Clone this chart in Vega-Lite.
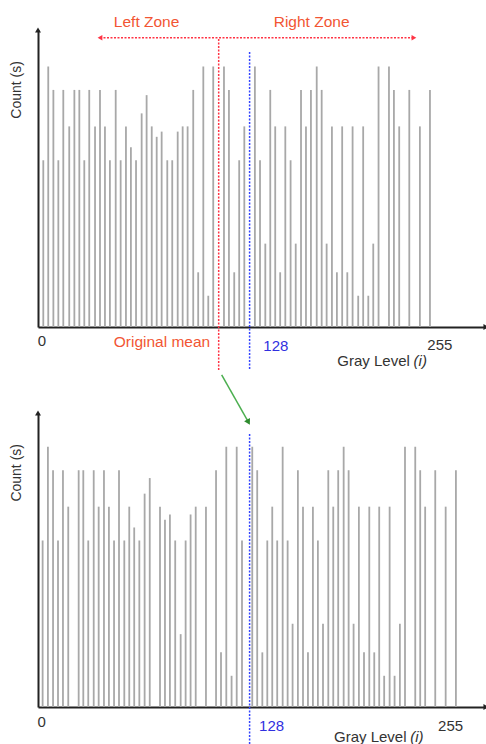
{
  "$schema": "https://vega.github.io/schema/vega-lite/v6.json",
  "padding": {"left": 9, "top": 14, "right": 0, "bottom": 0},
  "bounds": "flush",
  "spacing": 86,
  "config": {
    "view": {"stroke": null},
    "font": "Liberation Sans",
    "axis": {"domainColor": "#222222", "domainWidth": 2, "ticks": false, "labels": false, "grid": false}
  },
  "datasets": {
    "top_bars": [
      {"level":3.2,"count":64},{"level":6.2,"count":100},{"level":9.3,"count":91},{"level":12.3,"count":64},{"level":15.3,"count":91},{"level":18.9,"count":77},{"level":22,"count":91},{"level":25,"count":91},{"level":28,"count":64},{"level":31,"count":91},{"level":34.5,"count":77},{"level":37.5,"count":91},{"level":40.5,"count":77},{"level":43.5,"count":64},{"level":47,"count":91},{"level":50,"count":64},{"level":53.2,"count":77},{"level":56.2,"count":69},{"level":59.3,"count":64},{"level":62.7,"count":82},{"level":65.7,"count":89},{"level":68.8,"count":77},{"level":71.8,"count":73},{"level":74.8,"count":75},{"level":78.2,"count":64},{"level":81.2,"count":64},{"level":84.5,"count":75},{"level":87.5,"count":77},{"level":90.5,"count":77},{"level":93.9,"count":91},{"level":96.9,"count":21},{"level":100,"count":100},{"level":103,"count":12},{"level":106,"count":100},{"level":112.5,"count":100},{"level":115.5,"count":91},{"level":118.7,"count":21},{"level":121.7,"count":64},{"level":124.8,"count":77},{"level":131.2,"count":100},{"level":134.3,"count":64},{"level":137.5,"count":32},{"level":140.5,"count":91},{"level":143.5,"count":77},{"level":146.5,"count":21},{"level":149.6,"count":77},{"level":152.8,"count":64},{"level":155.9,"count":32},{"level":159.1,"count":91},{"level":162.1,"count":77},{"level":165.1,"count":91},{"level":168.6,"count":100},{"level":171.6,"count":91},{"level":174.6,"count":32},{"level":177.8,"count":77},{"level":180.8,"count":21},{"level":184,"count":77},{"level":187.1,"count":21},{"level":190.3,"count":77},{"level":193.7,"count":12},{"level":196.7,"count":77},{"level":199.8,"count":12},{"level":202.8,"count":32},{"level":206,"count":100},{"level":212.3,"count":100},{"level":215.3,"count":91},{"level":218.5,"count":77},{"level":224.6,"count":91},{"level":231,"count":77},{"level":237.1,"count":91}
    ],
    "bottom_bars": [
      {"level":2.8,"count":64},{"level":6,"count":100},{"level":9.1,"count":91},{"level":12.1,"count":64},{"level":15.1,"count":91},{"level":18.3,"count":77},{"level":24.6,"count":91},{"level":27.4,"count":91},{"level":30.4,"count":64},{"level":33.7,"count":91},{"level":36.7,"count":77},{"level":39.9,"count":91},{"level":42.9,"count":77},{"level":46,"count":64},{"level":49,"count":91},{"level":52.2,"count":64},{"level":55.2,"count":77},{"level":58.2,"count":69},{"level":61.3,"count":64},{"level":64.5,"count":82},{"level":67.6,"count":88},{"level":73.8,"count":77},{"level":76.8,"count":72},{"level":79.8,"count":74},{"level":83,"count":64},{"level":86.3,"count":28},{"level":89.3,"count":64},{"level":92.3,"count":74},{"level":95.4,"count":77},{"level":101.6,"count":77},{"level":107.7,"count":91},{"level":110.7,"count":21},{"level":113.9,"count":100},{"level":117.1,"count":12},{"level":120.2,"count":100},{"level":123.4,"count":64},{"level":129.6,"count":100},{"level":132.6,"count":91},{"level":135.7,"count":21},{"level":138.7,"count":64},{"level":141.7,"count":77},{"level":144.7,"count":64},{"level":148,"count":100},{"level":151,"count":64},{"level":154,"count":32},{"level":157.2,"count":91},{"level":160.3,"count":77},{"level":163.3,"count":21},{"level":166.3,"count":77},{"level":169.3,"count":64},{"level":172.4,"count":32},{"level":175.6,"count":91},{"level":178.6,"count":77},{"level":181.6,"count":91},{"level":184.9,"count":100},{"level":187.9,"count":91},{"level":190.9,"count":32},{"level":194.1,"count":77},{"level":197.2,"count":21},{"level":200.4,"count":77},{"level":203.4,"count":21},{"level":206.4,"count":77},{"level":209.4,"count":12},{"level":212.7,"count":77},{"level":215.7,"count":12},{"level":218.9,"count":32},{"level":222,"count":100},{"level":228.2,"count":100},{"level":231.2,"count":91},{"level":234.2,"count":77},{"level":240.3,"count":91},{"level":246.6,"count":77},{"level":252.8,"count":91}
    ]
  },
  "vconcat": [
    {
      "width": 448,
      "height": 297,
      "layer": [
        {
          "data": {"name": "top_bars"},
          "mark": {"type": "rule", "color": "#a8a8a8", "strokeWidth": 1.8},
          "encoding": {
            "x": {"field": "level", "type": "quantitative", "title": null, "scale": {"domain": [0, 271], "nice": false, "zero": false}, "axis": {"title": null}},
            "y": {"field": "count", "type": "quantitative", "title": null, "scale": {"domain": [0, 114], "nice": false}, "axis": {"title": null}},
            "y2": {"datum": 0}
          }
        },
        {
          "data": {"values": [{"level": 109.3, "y1": -16.5, "y2": 111}]},
          "mark": {"type": "rule", "color": "#ff3344", "strokeWidth": 1.5, "strokeDash": [2, 1.5]},
          "encoding": {
            "x": {"field": "level", "type": "quantitative", "title": null},
            "y": {"field": "y1", "type": "quantitative", "title": null},
            "y2": {"field": "y2", "title": null}
          }
        },
        {
          "data": {"values": [{"level": 128, "y1": -16.1, "y2": 105.7}]},
          "mark": {"type": "rule", "color": "#3344ff", "strokeWidth": 1.5, "strokeDash": [2, 1.5]},
          "encoding": {
            "x": {"field": "level", "type": "quantitative", "title": null},
            "y": {"field": "y1", "type": "quantitative", "title": null},
            "y2": {"field": "y2", "title": null}
          }
        },
        {
          "data": {"values": [{"x1": 37.5, "x2": 227.4, "count": 111}]},
          "layer": [
            {
              "mark": {"type": "rule", "color": "#ff3344", "strokeWidth": 1.5, "strokeDash": [2, 1.5]},
              "encoding": {
                "x": {"field": "x1", "type": "quantitative", "title": null},
                "x2": {"field": "x2", "title": null},
                "y": {"field": "count", "type": "quantitative", "title": null}
              }
            },
            {
              "mark": {"type": "point", "shape": "triangle-left", "filled": true, "color": "#ff3344", "size": 30, "opacity": 1},
              "encoding": {
                "x": {"field": "x1", "type": "quantitative", "title": null},
                "y": {"field": "count", "type": "quantitative", "title": null}
              }
            },
            {
              "mark": {"type": "point", "shape": "triangle-right", "filled": true, "color": "#ff3344", "size": 30, "opacity": 1},
              "encoding": {
                "x": {"field": "x2", "type": "quantitative", "title": null},
                "y": {"field": "count", "type": "quantitative", "title": null}
              }
            }
          ]
        },
        {
          "data": {"values": [{"level": 0, "count": 114}]},
          "mark": {"type": "point", "shape": "triangle-up", "filled": true, "color": "#222222", "size": 35, "opacity": 1},
          "encoding": {
            "x": {"field": "level", "type": "quantitative", "title": null},
            "y": {"field": "count", "type": "quantitative", "title": null}
          }
        },
        {
          "data": {"values": [{"level": 271, "count": 0}]},
          "mark": {"type": "point", "shape": "triangle-right", "filled": true, "color": "#222222", "size": 35, "opacity": 1},
          "encoding": {
            "x": {"field": "level", "type": "quantitative", "title": null},
            "y": {"field": "count", "type": "quantitative", "title": null}
          }
        },
        {
          "data": {"values": [{"x1": 111.1, "y1": -18.4, "x2": 127.3, "y2": -36.5}]},
          "layer": [
            {
              "mark": {"type": "rule", "color": "#4caf50", "strokeWidth": 1.5},
              "encoding": {
                "x": {"field": "x1", "type": "quantitative", "title": null},
                "y": {"field": "y1", "type": "quantitative", "title": null},
                "x2": {"field": "x2", "title": null},
                "y2": {"field": "y2", "title": null}
              }
            },
            {
              "mark": {"type": "point", "shape": "triangle-down", "filled": true, "color": "#2e8b2e", "size": 45, "opacity": 1, "angle": -29},
              "encoding": {
                "x": {"field": "x2", "type": "quantitative", "title": null},
                "y": {"field": "y2", "type": "quantitative", "title": null}
              }
            }
          ]
        },
        {
          "data": {"values": [{"level": -12.9, "count": 91, "text": "Count (s)"}]},
          "mark": {"type": "text", "angle": 270, "fontSize": 14, "color": "#333333", "baseline": "middle", "align": "center"},
          "encoding": {
            "x": {"field": "level", "type": "quantitative", "title": null},
            "y": {"field": "count", "type": "quantitative", "title": null},
            "text": {"field": "text"}
          }
        },
        {
          "data": {"values": [{"level": 65.7, "count": 117.1, "text": "Left Zone"}, {"level": 165.5, "count": 117.1, "text": "Right Zone"}, {"level": 75, "count": -5.6, "text": "Original mean"}]},
          "mark": {"type": "text", "fontSize": 15.5, "color": "#f25533", "baseline": "middle", "align": "center"},
          "encoding": {
            "x": {"field": "level", "type": "quantitative", "title": null},
            "y": {"field": "count", "type": "quantitative", "title": null},
            "text": {"field": "text"}
          }
        },
        {
          "data": {"values": [{"level": 2.4, "count": -5.4, "text": "0"}, {"level": 243.1, "count": -6.9, "text": "255"}, {"level": 203, "count": -12.9, "text": "Gray Level"}]},
          "mark": {"type": "text", "fontSize": 15, "color": "#333333", "baseline": "middle", "align": "center"},
          "encoding": {
            "x": {"field": "level", "type": "quantitative", "title": null},
            "y": {"field": "count", "type": "quantitative", "title": null},
            "text": {"field": "text"}
          }
        },
        {
          "data": {"values": [{"level": 231.2, "count": -12.9, "text": "(i)"}]},
          "mark": {"type": "text", "fontSize": 15, "fontStyle": "italic", "color": "#333333", "baseline": "middle", "align": "center"},
          "encoding": {
            "x": {"field": "level", "type": "quantitative", "title": null},
            "y": {"field": "count", "type": "quantitative", "title": null},
            "text": {"field": "text"}
          }
        },
        {
          "data": {"values": [{"level": 143.9, "count": -7.3, "text": "128"}]},
          "mark": {"type": "text", "fontSize": 15, "color": "#3030e0", "baseline": "middle", "align": "center"},
          "encoding": {
            "x": {"field": "level", "type": "quantitative", "title": null},
            "y": {"field": "count", "type": "quantitative", "title": null},
            "text": {"field": "text"}
          }
        }
      ]
    },
    {
      "width": 448,
      "height": 294,
      "layer": [
        {
          "data": {"name": "bottom_bars"},
          "mark": {"type": "rule", "color": "#a8a8a8", "strokeWidth": 1.8},
          "encoding": {
            "x": {"field": "level", "type": "quantitative", "title": null, "scale": {"domain": [0, 271], "nice": false, "zero": false}, "axis": {"title": null}},
            "y": {"field": "count", "type": "quantitative", "title": null, "scale": {"domain": [0, 113], "nice": false}, "axis": {"title": null}},
            "y2": {"datum": 0}
          }
        },
        {
          "data": {"values": [{"level": 128, "y1": -14.2, "y2": 105.3}]},
          "mark": {"type": "rule", "color": "#3344ff", "strokeWidth": 1.5, "strokeDash": [2, 1.5]},
          "encoding": {
            "x": {"field": "level", "type": "quantitative", "title": null},
            "y": {"field": "y1", "type": "quantitative", "title": null},
            "y2": {"field": "y2", "title": null}
          }
        },
        {
          "data": {"values": [{"level": 0, "count": 113}]},
          "mark": {"type": "point", "shape": "triangle-up", "filled": true, "color": "#222222", "size": 35, "opacity": 1},
          "encoding": {
            "x": {"field": "level", "type": "quantitative", "title": null},
            "y": {"field": "count", "type": "quantitative", "title": null}
          }
        },
        {
          "data": {"values": [{"level": 271, "count": 0}]},
          "mark": {"type": "point", "shape": "triangle-right", "filled": true, "color": "#222222", "size": 35, "opacity": 1},
          "encoding": {
            "x": {"field": "level", "type": "quantitative", "title": null},
            "y": {"field": "count", "type": "quantitative", "title": null}
          }
        },
        {
          "data": {"values": [{"level": -12.9, "count": 90, "text": "Count (s)"}]},
          "mark": {"type": "text", "angle": 270, "fontSize": 14, "color": "#333333", "baseline": "middle", "align": "center"},
          "encoding": {
            "x": {"field": "level", "type": "quantitative", "title": null},
            "y": {"field": "count", "type": "quantitative", "title": null},
            "text": {"field": "text"}
          }
        },
        {
          "data": {"values": [{"level": 2.2, "count": -5.8, "text": "0"}, {"level": 249.6, "count": -7.3, "text": "255"}, {"level": 201, "count": -11.6, "text": "Gray Level"}]},
          "mark": {"type": "text", "fontSize": 15, "color": "#333333", "baseline": "middle", "align": "center"},
          "encoding": {
            "x": {"field": "level", "type": "quantitative", "title": null},
            "y": {"field": "count", "type": "quantitative", "title": null},
            "text": {"field": "text"}
          }
        },
        {
          "data": {"values": [{"level": 229.2, "count": -11.6, "text": "(i)"}]},
          "mark": {"type": "text", "fontSize": 15, "fontStyle": "italic", "color": "#333333", "baseline": "middle", "align": "center"},
          "encoding": {
            "x": {"field": "level", "type": "quantitative", "title": null},
            "y": {"field": "count", "type": "quantitative", "title": null},
            "text": {"field": "text"}
          }
        },
        {
          "data": {"values": [{"level": 141.3, "count": -7.3, "text": "128"}]},
          "mark": {"type": "text", "fontSize": 15, "color": "#3030e0", "baseline": "middle", "align": "center"},
          "encoding": {
            "x": {"field": "level", "type": "quantitative", "title": null},
            "y": {"field": "count", "type": "quantitative", "title": null},
            "text": {"field": "text"}
          }
        }
      ]
    }
  ]
}
